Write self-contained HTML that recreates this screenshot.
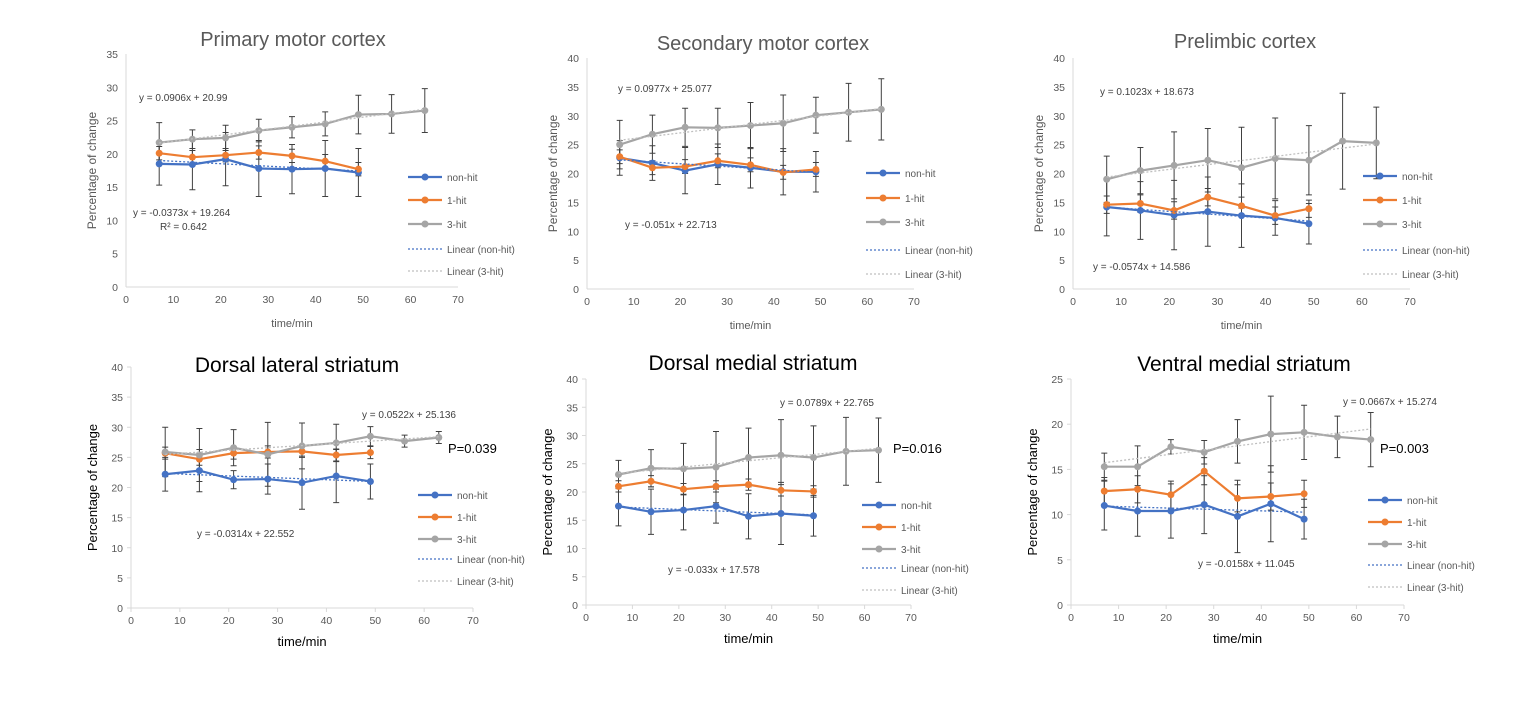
<!DOCTYPE html>
<html><head><meta charset="utf-8">
<style>
html,body{margin:0;padding:0;background:#fff;}
body{width:1536px;height:720px;overflow:hidden;font-family:"Liberation Sans",sans-serif;}
svg text{font-family:"Liberation Sans",sans-serif;}
</style></head>
<body>
<svg id="fig" width="1536" height="720" viewBox="0 0 1536 720"></svg>
<script>
const times = [7,14,21,28,35,42,49,56,63];
// Primary motor cortex
const p1NonHit = [18.5,18.4,19.2,17.8,17.7,17.8,17.2];
const p1NonHitErr = [3.2,3.8,4.0,4.2,3.7,4.2,3.6];
const p1OneHit = [20.1,19.5,19.8,20.2,19.7,18.9,17.7];
const p1OneHitErr = [1.0,1.0,1.0,1.0,1.0,1.0,1.0];
const p1ThreeHit = [21.7,22.2,22.4,23.5,24.0,24.5,25.9,26.0,26.5];
const p1ThreeHitErr = [3.0,1.4,1.9,1.7,1.6,1.8,2.9,2.9,3.3];
const p1Trend = [-0.0373,19.264,0.0906,20.99];
// Secondary motor cortex
const p2NonHit = [22.7,21.8,20.5,21.6,21.0,20.3,20.3];
const p2NonHitErr = [3.0,3.0,4.0,3.5,3.5,4.0,3.5];
const p2OneHit = [22.9,21.0,21.2,22.2,21.5,20.2,20.7];
const p2OneHitErr = [1.2,1.2,1.2,1.2,1.2,1.2,1.2];
const p2ThreeHit = [25.0,26.8,28.0,27.9,28.3,28.7,30.1,30.6,31.1];
const p2ThreeHitErr = [4.2,3.3,3.3,3.4,4.0,4.9,3.1,5.0,5.3];
const p2Trend = [-0.051,22.713,0.0977,25.077];
// Prelimbic cortex
const p3NonHit = [14.2,13.6,12.8,13.4,12.7,12.3,11.3];
const p3NonHitErr = [5.0,5.0,6.0,6.0,5.5,3.0,3.5];
const p3OneHit = [14.6,14.8,13.6,15.9,14.4,12.7,13.9];
const p3OneHitErr = [1.5,1.5,1.5,1.5,1.5,1.5,1.5];
const p3ThreeHit = [19.0,20.5,21.4,22.3,21.0,22.6,22.3,25.6,25.3];
const p3ThreeHitErr = [4.0,4.0,5.8,5.5,7.0,7.0,6.0,8.3,6.2];
const p3Trend = [-0.0574,14.586,0.1023,18.673];
// Dorsal lateral striatum
const p4NonHit = [22.2,22.8,21.3,21.4,20.8,21.9,21.0];
const p4NonHitErr = [2.8,3.5,1.5,2.5,4.4,4.4,2.9];
const p4OneHit = [25.7,24.7,25.7,25.9,26.0,25.4,25.8];
const p4OneHitErr = [1.0,1.0,1.0,1.0,1.0,1.0,1.0];
const p4ThreeHit = [25.9,25.4,26.6,25.5,26.9,27.4,28.5,27.7,28.3];
const p4ThreeHitErr = [4.1,4.4,3.0,5.3,3.8,3.1,1.6,1.0,1.0];
const p4Trend = [-0.0314,22.552,0.0522,25.136];
// Dorsal medial striatum
const p5NonHit = [17.5,16.5,16.8,17.5,15.7,16.2,15.8];
const p5NonHitErr = [3.5,4.0,3.5,3.0,4.0,5.5,3.6];
const p5OneHit = [21.0,21.9,20.5,21.0,21.3,20.3,20.1];
const p5OneHitErr = [1.0,1.0,1.0,1.0,1.0,1.0,1.0];
const p5ThreeHit = [23.1,24.2,24.1,24.4,26.1,26.5,26.1,27.2,27.4];
const p5ThreeHitErr = [2.5,3.3,4.5,6.3,5.2,6.3,5.6,6.0,5.7];
const p5Trend = [-0.033,17.578,0.0789,22.765];
// Ventral medial striatum
const p6NonHit = [11.0,10.4,10.4,11.1,9.8,11.2,9.5];
const p6NonHitErr = [2.7,2.8,3.0,3.2,4.0,4.2,2.2];
const p6OneHit = [12.6,12.8,12.2,14.8,11.8,12.0,12.3];
const p6OneHitErr = [1.5,1.5,1.5,1.5,1.5,1.5,1.5];
const p6ThreeHit = [15.3,15.3,17.5,16.9,18.1,18.9,19.1,18.6,18.3];
const p6ThreeHitErr = [1.5,2.3,0.8,1.3,2.4,4.2,3.0,2.3,3.0];
const p6Trend = [-0.0158,11.045,0.0667,15.274];
const xTicks = [0,10,20,30,40,50,60,70];

const NS='http://www.w3.org/2000/svg';
const svg=document.getElementById('fig');
function mk(tag,attrs,parent){const e=document.createElementNS(NS,tag);for(const k in attrs)e.setAttribute(k,attrs[k]);(parent||svg).appendChild(e);return e;}
function txt(s,attrs,parent){const e=mk('text',attrs,parent);e.textContent=s;return e;}

const panels=[
 {id:'primary-motor-cortex',title:'Primary motor cortex',x0:126,x1:458,y0:287,y1:54,ymax:35,step:5,top:true,tx:293,ty:46,
  nh:p1NonHit,nhe:p1NonHitErr,oh:p1OneHit,ohe:p1OneHitErr,th:p1ThreeHit,the:p1ThreeHitErr,tr:p1Trend,
  lx:408,ly:[177,200,224,249,271],eq1:[139,101],eq2:[133,216],r2:true,p:null},
 {id:'secondary-motor-cortex',title:'Secondary motor cortex',x0:587,x1:914,y0:289,y1:58,ymax:40,step:5,top:true,tx:763,ty:50,
  nh:p2NonHit,nhe:p2NonHitErr,oh:p2OneHit,ohe:p2OneHitErr,th:p2ThreeHit,the:p2ThreeHitErr,tr:p2Trend,
  lx:866,ly:[173,198,222,250,274],eq1:[618,92],eq2:[625,228],p:null},
 {id:'prelimbic-cortex',title:'Prelimbic cortex',x0:1073,x1:1410,y0:289,y1:58,ymax:40,step:5,top:true,tx:1245,ty:48,
  nh:p3NonHit,nhe:p3NonHitErr,oh:p3OneHit,ohe:p3OneHitErr,th:p3ThreeHit,the:p3ThreeHitErr,tr:p3Trend,
  lx:1363,ly:[176,200,224,250,274],eq1:[1100,95],eq2:[1093,270],p:null},
 {id:'dorsal-lateral-striatum',title:'Dorsal lateral striatum',x0:131,x1:473,y0:608,y1:367,ymax:40,step:5,top:false,tx:297,ty:372,
  nh:p4NonHit,nhe:p4NonHitErr,oh:p4OneHit,ohe:p4OneHitErr,th:p4ThreeHit,the:p4ThreeHitErr,tr:p4Trend,
  lx:418,ly:[495,517,539,559,581],eq1:[362,418],eq2:[197,537],p:['P=0.039',448,453]},
 {id:'dorsal-medial-striatum',title:'Dorsal medial striatum',x0:586,x1:911,y0:605,y1:379,ymax:40,step:5,top:false,tx:753,ty:370,
  nh:p5NonHit,nhe:p5NonHitErr,oh:p5OneHit,ohe:p5OneHitErr,th:p5ThreeHit,the:p5ThreeHitErr,tr:p5Trend,
  lx:862,ly:[505,527,549,568,590],eq1:[780,406],eq2:[668,573],p:['P=0.016',893,453]},
 {id:'ventral-medial-striatum',title:'Ventral medial striatum',x0:1071,x1:1404,y0:605,y1:379,ymax:25,step:5,top:false,tx:1244,ty:371,
  nh:p6NonHit,nhe:p6NonHitErr,oh:p6OneHit,ohe:p6OneHitErr,th:p6ThreeHit,the:p6ThreeHitErr,tr:p6Trend,
  lx:1368,ly:[500,522,544,565,587],eq1:[1343,405],eq2:[1198,567],p:['P=0.003',1380,453]}
];
const BLUE='#4472c4',ORANGE='#ed7d31',GRAY='#a5a5a5',TXT='#595959';

panels.forEach(P=>{
 const g=mk('g',{});
 
 
 const X=v=>P.x0+(v/70)*(P.x1-P.x0);
 const Y=v=>P.y0-(v/P.ymax)*(P.y0-P.y1);
 const t=txt(P.title,{x:P.tx,y:P.ty,'text-anchor':'middle','font-size':P.top?20:21,fill:P.top?TXT:'#000'},g);
 
 
 // axes
 const ax=mk('line',{x1:P.x0,y1:P.y0,x2:P.x1,y2:P.y0,stroke:'#d9d9d9','stroke-width':1},g);
 
 
 const ay=mk('line',{x1:P.x0,y1:P.y0,x2:P.x0,y2:P.y1,stroke:'#d9d9d9','stroke-width':1},g);
 
 
 for(let v=0;v<=P.ymax;v+=P.step){
  const l=txt(String(v),{x:P.x0-8,y:Y(v)+4,'text-anchor':'end','font-size':10.5,fill:TXT},g);
  
  
  if(!P.top) mk('line',{x1:P.x0-4,x2:P.x0,y1:Y(v),y2:Y(v),stroke:'#d9d9d9'},g);
 }
 xTicks.forEach(v=>{
  const l=txt(String(v),{x:X(v),y:P.y0+16,'text-anchor':'middle','font-size':10.5,fill:TXT},g);
  
  
  if(!P.top) mk('line',{x1:X(v),x2:X(v),y1:P.y0,y2:P.y0+4,stroke:'#d9d9d9'},g);
 });
 const xt=txt('time/min',{x:(P.x0+P.x1)/2,y:P.top?P.y0+40:P.y0+38,'text-anchor':'middle','font-size':P.top?11:13,fill:P.top?TXT:'#000'},g);
 
 
 const ycx=P.x0-(P.top?30:34), ycy=(P.y0+P.y1)/2;
 const yt=txt('Percentage of change',{x:ycx,y:ycy,'text-anchor':'middle','font-size':P.top?12:13,fill:P.top?TXT:'#000',transform:`rotate(-90 ${ycx} ${ycy})`},g);
 
 
 // trendlines
 const tl=[[P.tr[0],P.tr[1],49,'#4472c4','linear-non-hit'],[P.tr[2],P.tr[3],63,'#a5a5a5','linear-3-hit']];
 // series
 const series=[[P.nh,P.nhe,BLUE,'non-hit'],[P.oh,P.ohe,ORANGE,'1-hit'],[P.th,P.the,GRAY,'3-hit']];
 series.forEach(([d,e,c,n])=>{
  d.forEach((v,i)=>{
   const x=X(times[i]);
   const eb=mk('path',{d:`M${x},${Y(v-e[i])}V${Y(v+e[i])}M${x-3},${Y(v-e[i])}h6M${x-3},${Y(v+e[i])}h6`,stroke:'#404040','stroke-width':1,fill:'none'},g);
   
   
  });
 });
 series.forEach(([d,e,c,n])=>{
  const pts=d.map((v,i)=>X(times[i])+','+Y(v)).join(' ');
  const pl=mk('polyline',{points:pts,fill:'none',stroke:c,'stroke-width':2.2},g);
  
  
  d.forEach((v,i)=>{
   const m=mk('circle',{cx:X(times[i]),cy:Y(v),r:3.5,fill:c},g);
   
   
  });
 });
 tl.forEach(([a,b,xe,c,n])=>{
  const l=mk('line',{x1:X(7),y1:Y(a*7+b),x2:X(xe),y2:Y(a*xe+b),stroke:c==GRAY?'#bfbfbf':c,'stroke-width':1.3,'stroke-dasharray':'2,2'},g);
  
  
 });
 // equations
 const fmt=(a,b)=>`y = ${a}x + ${b}`;
 const e1=txt(fmt(P.tr[2],P.tr[3]),{x:P.eq1[0],y:P.eq1[1],'font-size':10,fill:'#404040'},g);
 
 
 const e2=txt(fmt(P.tr[0],P.tr[1]),{x:P.eq2[0],y:P.eq2[1],'font-size':10,fill:'#404040'},g);
 
 
 if(P.r2){const r=txt('R² = 0.642',{x:160,y:230,'font-size':10,fill:'#404040'},g);
  
  }
 if(P.p){const p=txt(P.p[0],{x:P.p[1],y:P.p[2],'font-size':13,fill:'#000'},g);
  
  }
 // legend
 const leg=[['non-hit',BLUE,false],['1-hit',ORANGE,false],['3-hit',GRAY,false],['Linear (non-hit)',BLUE,true],['Linear (3-hit)','#bfbfbf',true]];
 leg.forEach(([n,c,dash],i)=>{
  const y=P.ly[i];
  const le=mk('g',{},g);
  
  
  mk('line',{x1:P.lx,x2:P.lx+34,y1:y,y2:y,stroke:c,'stroke-width':dash?1.3:2.2,'stroke-dasharray':dash?'2,2':'none'},le);
  if(!dash) mk('circle',{cx:P.lx+17,cy:y,r:3.5,fill:c},le);
  txt(n,{x:P.lx+39,y:y+4,'font-size':10,fill:TXT},le);
 });
});
</script>
</body></html>
